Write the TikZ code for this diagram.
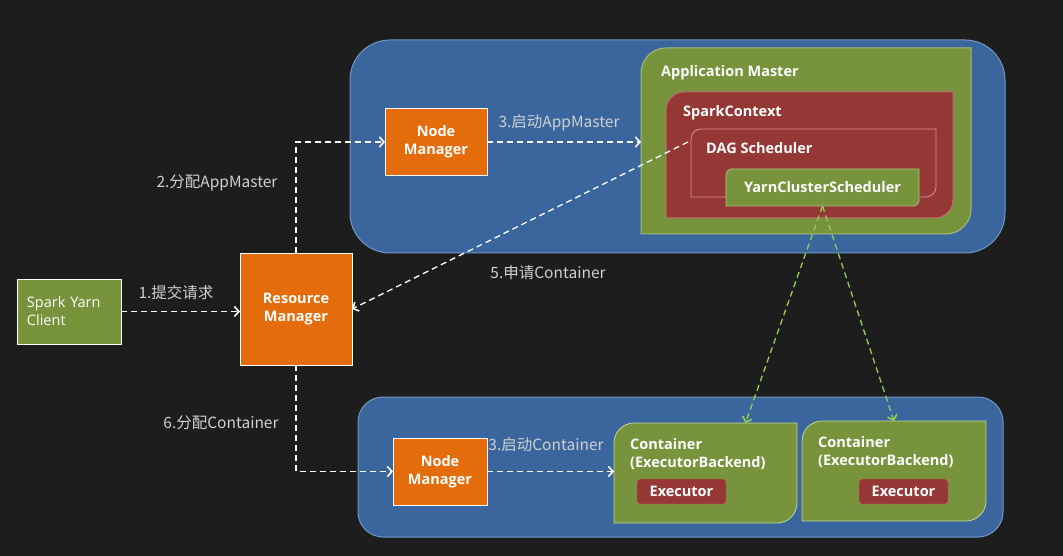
\documentclass[tikz,border=0pt]{standalone}
\usepackage{fontspec}
\setmainfont{Open Sans}
\newfontfamily\cjk{Noto Sans CJK SC}
\usepackage{tikz}
\usetikzlibrary{arrows.meta,positioning,calc}
\pgfdeclarelayer{back}
\pgfdeclarelayer{boxes}
\pgfsetlayers{back,boxes,main}
\definecolor{bgdark}{HTML}{1D1D1D}
\definecolor{hostblue}{HTML}{3A669D}
\definecolor{hostedge}{HTML}{7097C6}
\definecolor{sparkgreen}{HTML}{77933C}
\definecolor{greenedge}{HTML}{C3D69B}
\definecolor{sparkred}{HTML}{953735}
\definecolor{rededge}{HTML}{D99694}
\definecolor{yarnorange}{HTML}{E46C0A}
\definecolor{lblgray}{HTML}{D0D0D0}
\definecolor{taskgreen}{HTML}{92D050}
% filled box, round only at top left and bottom right
\newcommand{\diagbox}[3]{%
  \begin{pgfonlayer}{boxes}
    \filldraw[#3] (#1.west) [rounded corners=#2] -- (#1.north west) -- (#1.north)
      [sharp corners] -- (#1.north east) -- (#1.east)
      [rounded corners=#2] -- (#1.south east) -- (#1.south)
      [sharp corners] -- (#1.south west) -- cycle;
  \end{pgfonlayer}}

\begin{document}
\begin{tikzpicture}[x=1pt,y=-1pt,
    >={Straight Barb[length=4.5pt,width=10pt,line width=1.6pt]},
    area/.style 2 args={minimum width=#1,minimum height=#2,inner sep=0pt,outer sep=0pt},
    host/.style={fill=hostblue,draw=hostedge,line width=1pt},
    yarn/.style={draw=white,line width=0.8pt,fill=yarnorange,text=white,align=center,
      font=\bfseries\fontsize{14.5}{18}\selectfont,inner sep=0pt,outer sep=0pt},
    title/.style={text=white,font=\bfseries\fontsize{14.5}{18}\selectfont,inner sep=0pt},
    exec/.style={draw=rededge!70!sparkred,fill=sparkred,rounded corners=3pt,text=white,
      font=\bfseries\fontsize{14.5}{18}\selectfont,minimum width=89pt,minimum height=25pt,
      inner sep=0pt},
    lbl/.style={text=lblgray,font=\cjk\fontsize{15.5}{18}\selectfont,inner sep=0pt},
    flow/.style={draw=white,dashed,dash pattern=on 6pt off 4pt,line width=1.3pt,->},
    task/.style={draw=taskgreen,dashed,dash pattern=on 6pt off 4pt,line width=1.3pt,->}
  ]
    \useasboundingbox (0,0) rectangle (1063,556);
    \begin{pgfonlayer}{back}
      \fill[bgdark] (0,0) rectangle (1063,556);
      \node[area={655pt}{213pt},host,rounded corners=40pt] (host1) at (677.5,146.5) {};
      \node[area={645pt}{140pt},host,rounded corners=25pt] (host2) at (680.5,467) {};
    \end{pgfonlayer}

    % client and yarn daemons
    \node[draw=white,line width=0.8pt,fill=sparkgreen,text=white,align=left,text width=84pt,
      inner xsep=10pt,minimum height=65pt,outer sep=0pt,
      font=\fontsize{14.5}{18}\selectfont] (client) at (69,311.5) {Spark Yarn\\Client};
    \node[yarn,minimum width=112pt,minimum height=112pt] (rm) at (296,309) {Resource\\Manager};
    \node[yarn,minimum width=102pt,minimum height=67pt] (nm1) at (436,142) {Node\\Manager};
    \node[yarn,minimum width=94pt,minimum height=67pt] (nm2) at (440,471.5) {Node\\Manager};

    % application master
    \node[area={330pt}{186pt}] (am) at (806,141) {};
    \node[area={287pt}{126pt}] (sc) at (809.5,155) {};
    \node[area={245pt}{68pt}] (dag) at (813.5,163) {};
    \node[area={193pt}{37pt},title] (ycs) at (822.5,187.5) {YarnClusterScheduler};
    \diagbox{am}{25pt}{fill=sparkgreen,draw=greenedge!60!sparkgreen,line width=1pt}
    \diagbox{sc}{18pt}{fill=sparkred,draw=rededge!60!sparkred,line width=1pt}
    \diagbox{dag}{10pt}{fill=sparkred,draw=rededge,line width=0.8pt}
    \diagbox{ycs}{6pt}{fill=sparkgreen,draw=greenedge!70!sparkgreen,line width=0.8pt}
    \node[title,anchor=west] (amtext) at (661,73) {Application Master};
    \node[title,anchor=west] (sctext) at (683,113) {SparkContext};
    \node[title,anchor=west] (dagtext) at (706,148) {DAG Scheduler};

    % containers
    \node[area={183pt}{100pt}] (cont1) at (705.5,473) {};
    \node[area={184pt}{100pt}] (cont2) at (894,471) {};
    \diagbox{cont1}{20pt}{fill=sparkgreen,draw=greenedge,line width=0.8pt}
    \diagbox{cont2}{20pt}{fill=sparkgreen,draw=greenedge,line width=0.8pt}
    \node[title,anchor=west,align=left] (c1text) at (630,454) {Container\\(ExecutorBackend)};
    \node[title,anchor=west,align=left] (c2text) at (818,452) {Container\\(ExecutorBackend)};
    \node[exec] (ex1) at (681.5,491.5) {Executor};
    \node[exec] (ex2) at (903.5,491.5) {Executor};

    % request flow
    \coordinate (req) at (688,142);
    \draw[flow] (client.east) -- (client.east -| rm.west);
    \draw[flow] (rm.north) |- (nm1.west);
    \draw[flow] (nm1.east) -- (nm1.east -| am.west);
    \draw[flow] (req) -- (rm.east);
    \draw[flow] (rm.south) |- (nm2.west);
    \draw[flow] (nm2.east) -- (nm2.east -| cont1.west);
    \draw[task] (ycs.south) -- ([xshift=40pt]cont1.north);
    \draw[task] (ycs.south) -- (cont2.north);

    \node[lbl] (l1) at (176,293) {1.提交请求};
    \node[lbl] (l2) at (217,183) {2.分配AppMaster};
    \node[lbl] (l3) at (559,123) {3.启动AppMaster};
    \node[lbl] (l5) at (548,273) {5.申请Container};
    \node[lbl] (l6) at (221,423) {6.分配Container};
    \node[lbl] (l7) at (546,445) {3.启动Container};
\end{tikzpicture}
\end{document}
